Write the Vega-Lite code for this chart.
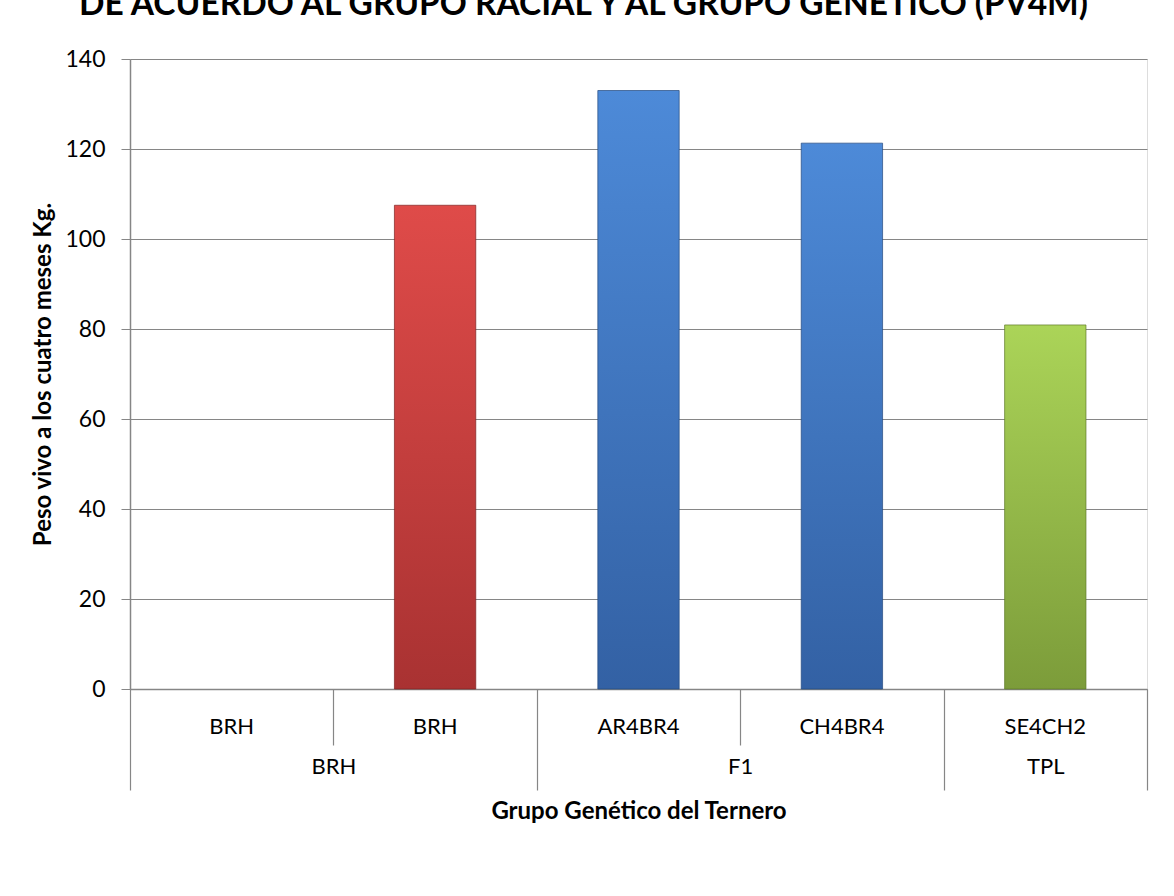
{
  "$schema": "https://vega.github.io/schema/vega-lite/v6.json",
  "width": 1017,
  "height": 630,
  "autosize": {"type": "none"},
  "padding": {"left": 130, "top": 59, "right": 27, "bottom": 207},
  "background": "white",
  "title": {
    "text": "DE ACUERDO AL GRUPO RACIAL Y AL GRUPO GENÉTICO (PV4M)",
    "anchor": "middle",
    "dx": -55,
    "offset": 0,
    "baseline": "alphabetic",
    "font": "Lato",
    "fontSize": 33.5,
    "fontWeight": "bold",
    "color": "black"
  },
  "data": {
    "values": [
      {"id": "BRH_1", "sub": "BRH", "grupo": "BRH", "peso": null},
      {"id": "BRH_2", "sub": "BRH", "grupo": "BRH", "peso": 107.5},
      {"id": "AR4BR4", "sub": "AR4BR4", "grupo": "F1", "peso": 133},
      {"id": "CH4BR4", "sub": "CH4BR4", "grupo": "F1", "peso": 121.3},
      {"id": "SE4CH2", "sub": "SE4CH2", "grupo": "TPL", "peso": 80.9}
    ]
  },
  "encoding": {
    "y": {
      "field": "peso",
      "type": "quantitative",
      "scale": {"domain": [0, 140], "nice": false},
      "axis": {
        "values": [0, 20, 40, 60, 80, 100, 120, 140],
        "title": "Peso vivo a los cuatro meses Kg.",
        "titleFont": "Lato",
        "titleFontSize": 24,
        "titleFontWeight": "bold",
        "titleColor": "black",
        "titlePadding": 9,
        "labelFont": "Lato",
        "labelFontSize": 23,
        "labelColor": "black",
        "labelPadding": 16,
        "tickSize": 9,
        "tickColor": "#868686",
        "domainColor": "#868686",
        "domainWidth": 1.5,
        "gridColor": "#868686",
        "gridWidth": 1.2
      }
    }
  },
  "layer": [
    {
      "mark": {"type": "bar", "width": {"band": 0.4}, "strokeWidth": 1, "strokeOpacity": 0.7},
      "encoding": {
        "x": {
          "field": "id",
          "type": "nominal",
          "sort": null,
          "scale": {"domain": ["BRH_1", "BRH_2", "AR4BR4", "CH4BR4", "SE4CH2"], "paddingInner": 0, "paddingOuter": 0},
          "axis": {
            "title": null,
            "labelExpr": "split(datum.value, '_')[0]",
            "ticks": false,
            "grid": false,
            "labelPadding": 27,
            "labelAngle": 0,
            "labelFont": "Lato",
            "labelFontSize": 22,
            "labelColor": "black",
            "domainColor": "#868686",
            "domainWidth": 1.5
          }
        },
        "fill": {
          "condition": [
            {"test": "datum.grupo == 'BRH'", "value": {"gradient": "linear", "x1": 0, "y1": 0, "x2": 0, "y2": 1, "stops": [{"offset": 0, "color": "#df4b49"}, {"offset": 1, "color": "#a93232"}]}},
            {"test": "datum.grupo == 'TPL'", "value": {"gradient": "linear", "x1": 0, "y1": 0, "x2": 0, "y2": 1, "stops": [{"offset": 0, "color": "#abd458"}, {"offset": 1, "color": "#7c9c3a"}]}}
          ],
          "value": {"gradient": "linear", "x1": 0, "y1": 0, "x2": 0, "y2": 1, "stops": [{"offset": 0, "color": "#4d8ad8"}, {"offset": 1, "color": "#3361a4"}]}
        },
        "stroke": {
          "condition": [
            {"test": "datum.grupo == 'BRH'", "value": "#7d2323"},
            {"test": "datum.grupo == 'TPL'", "value": "#5e7a28"}
          ],
          "value": "#244a7f"
        }
      }
    },
    {
      "mark": {"type": "bar", "opacity": 0, "width": {"band": 0.4}},
      "encoding": {
        "x": {
          "field": "id",
          "type": "nominal",
          "sort": null,
          "axis": {
            "orient": "bottom",
            "domain": false,
            "grid": false,
            "ticks": true,
            "tickBand": "extent",
            "tickColor": "#868686",
            "tickWidth": 1.2,
            "tickSize": {"condition": {"test": "indexof(['BRH_2','CH4BR4','SE4CH2'], datum.value) >= 0 || !isValid(datum.value)", "value": 101}, "value": 56},
            "labelExpr": "datum.value == 'BRH_1' ? 'BRH' : datum.value == 'AR4BR4' ? 'F1' : datum.value == 'SE4CH2' ? 'TPL' : ''",
            "labelOffset": {"condition": {"test": "datum.value == 'BRH_1' || datum.value == 'AR4BR4'", "value": 101.7}, "value": 0},
            "labelPadding": {"condition": {"test": "datum.value == 'SE4CH2' || datum.value == 'BRH_2' || datum.value == 'CH4BR4'", "value": -34}, "value": 11},
            "labelOverlap": false,
            "labelBound": false,
            "labelAngle": 0,
            "labelFont": "Lato",
            "labelFontSize": 22,
            "labelColor": "black",
            "title": "Grupo Genético del Ternero",
            "titleFont": "Lato",
            "titleFontSize": 24,
            "titleFontWeight": "bold",
            "titleColor": "black",
            "titlePadding": -23
          }
        }
      }
    }
  ],
  "resolve": {"axis": {"x": "independent"}}
}
